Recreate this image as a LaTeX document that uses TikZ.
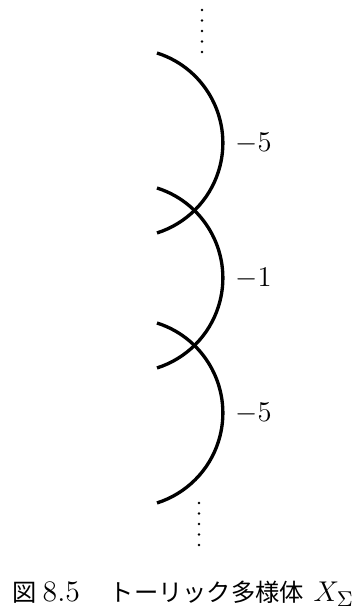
\documentclass[tikz,border=0pt]{standalone}
\usepackage{fontspec}
\newfontfamily\cjk{Noto Sans CJK JP}
\usetikzlibrary{positioning}

\begin{document}
\begin{tikzpicture}[x=0.42pt, y=0.42pt,
    curve/.style={line width=1.4pt},
    selfint/.style={font=\fontsize{13}{15}\selectfont, anchor=west, inner sep=0pt}]
  \useasboundingbox (0,0) rectangle (362,613);
  % Dots above
  \foreach \y in {603,592.5,582,571.5,561}
    \fill (202,\y) circle[radius=1.3];
  % Curves and their self-intersection numbers
  \foreach \c/\n/\lab in {470/a/-5, 335/b/-1, 200/c/-5} {
    \draw[curve] (157,\c+90) arc[start angle=72.4, end angle=-72.4, radius=94.4];
    \node[selfint] (lab\n) at (235,\c) {$\lab$};
  }
  % Dots below
  \foreach \y in {110,99.5,89,78.5,68}
    \fill (199,\y) circle[radius=1.3];
  % Caption
  \node[anchor=base west, inner sep=0pt, font=\fontsize{12.5}{14}\selectfont]
    (caption) at (12,11) {{\fontsize{10.2}{12}\selectfont\cjk 図}\hspace{2.5pt}8.5\hspace{12.5pt}{\fontsize{10.2}{12}\selectfont\cjk トーリック多様体}\hspace{4pt}$X_\Sigma$};
\end{tikzpicture}
\end{document}
